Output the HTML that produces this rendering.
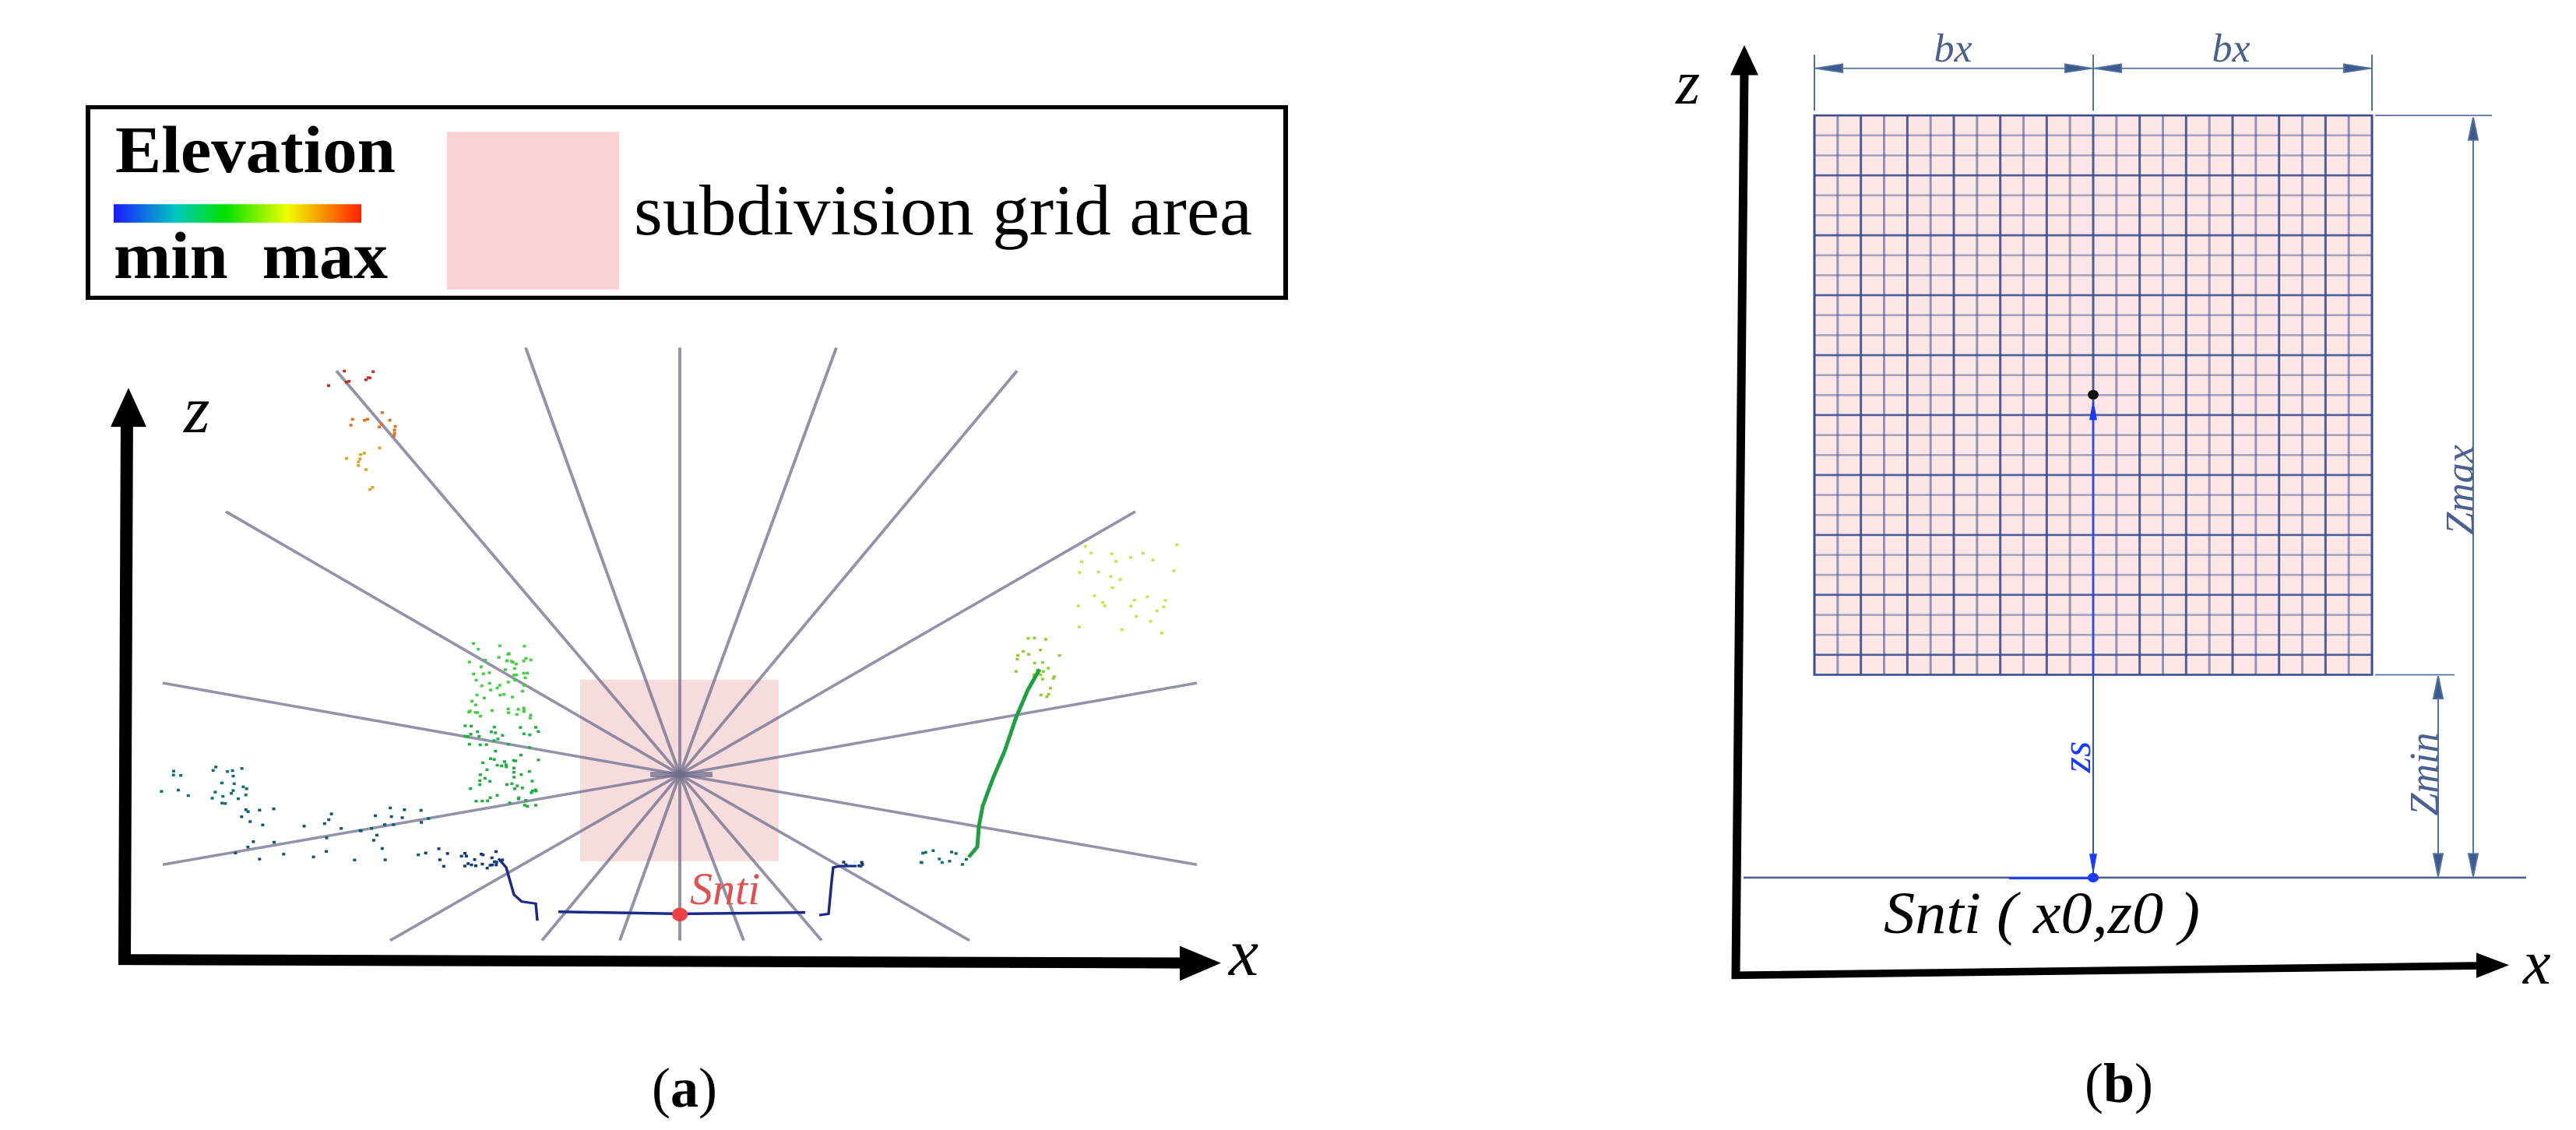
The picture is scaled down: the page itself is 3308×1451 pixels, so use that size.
<!DOCTYPE html>
<html><head><meta charset="utf-8"><style>
html,body{margin:0;padding:0;background:#fff;overflow:hidden;}
svg{display:block;}
</style></head><body>
<svg id="s" width="3308" height="1451" viewBox="0 0 3308 1451" xmlns="http://www.w3.org/2000/svg">
<defs>
<linearGradient id="g" x1="0" x2="1" y1="0" y2="0">
<stop offset="0" stop-color="#1a1aff"/><stop offset="0.25" stop-color="#00c8c0"/><stop offset="0.45" stop-color="#00e000"/><stop offset="0.7" stop-color="#f0ff00"/><stop offset="1" stop-color="#ff2000"/>
</linearGradient>
</defs>
<g transform="scale(1,0.877)">
<rect x="113" y="157" width="1538" height="279" fill="#fff" stroke="#000" stroke-width="6"/>
<rect x="146" y="299" width="318" height="27" fill="url(#g)"/>
<rect x="574" y="193" width="221" height="231" fill="#f9d3d3"/>

<rect x="745" y="995" width="255" height="266" fill="#f6dcdc"/>
<g id="rays" stroke="#6e6e8c" stroke-width="4" stroke-opacity="0.75"></g>
<g id="dots"></g>
<polyline points="640,1257 650,1270 655,1290 660,1310 670,1320 688,1323 690,1348" fill="none" stroke="#1a2a8a" stroke-width="3.5"/>
<polyline points="717,1335 873,1338 1034,1336" fill="none" stroke="#1a2a8a" stroke-width="4"/>
<polyline points="1052,1340 1064,1338 1068,1290 1070,1270 1080,1268 1100,1268" fill="none" stroke="#1a2a8a" stroke-width="3.5"/>
<polyline points="1244,1255 1255,1240 1257,1210 1262,1180 1275,1140 1290,1100 1305,1050 1320,1010 1335,980" fill="none" stroke="#1ea040" stroke-width="5"/>
<circle cx="873" cy="1339" r="10" fill="#f04040"/>
<polyline points="163,600 160,1405 1530,1410" fill="none" stroke="#000" stroke-width="16"/>
<polygon points="165,568 142,625 188,625" fill="#000"/>
<polygon points="1568,1410 1515,1385 1515,1436" fill="#000"/>

<rect x="2330" y="169" width="716" height="819" fill="#fde6e6"/>
<g id="grid" stroke="#3a4f8f" stroke-width="3"></g>
<rect x="2330" y="169" width="716" height="819" fill="none" stroke="#3a4f8f" stroke-width="3"/>
<g stroke="#5070a0" stroke-width="2" fill="#3a5a90">
<line x1="2330" y1="80" x2="2330" y2="162"/><line x1="2688" y1="80" x2="2688" y2="162"/><line x1="3046" y1="80" x2="3046" y2="162"/>
<line x1="2330" y1="100" x2="3046" y2="100"/>
<polygon points="2332,100 2366,94 2366,106"/><polygon points="2686,100 2652,94 2652,106"/>
<polygon points="2690,100 2724,94 2724,106"/><polygon points="3044,100 3010,94 3010,106"/>
<line x1="3050" y1="169" x2="3200" y2="169"/><line x1="3050" y1="988" x2="3152" y2="988"/>
<line x1="3176" y1="172" x2="3176" y2="1283"/><line x1="3131" y1="990" x2="3131" y2="1283"/>
<polygon points="3176,172 3170,205 3182,205"/><polygon points="3176,1283 3170,1250 3182,1250"/>
<polygon points="3131,990 3125,1023 3137,1023"/><polygon points="3131,1283 3125,1250 3137,1250"/>
</g>
<line x1="2239" y1="1285" x2="3244" y2="1285" stroke="#4a6090" stroke-width="3"/>
<line x1="2580" y1="1286" x2="2690" y2="1286" stroke="#1a3aff" stroke-width="3"/>
<line x1="2688" y1="590" x2="2688" y2="1280" stroke="#2a4aff" stroke-width="2"/>
<polygon points="2688,585 2683,615 2693,615" fill="#1a3aff"/>
<polygon points="2688,1280 2683,1250 2693,1250" fill="#1a3aff"/>
<circle cx="2688" cy="578" r="7" fill="#111"/>
<circle cx="2688" cy="1285" r="7" fill="#1a3aff"/>
<polyline points="2240,100 2229,1428 3180,1414" fill="none" stroke="#000" stroke-width="11"/>
<polygon points="2240,66 2222,110 2258,110" fill="#000"/>
<polygon points="3222,1413 3180,1395 3180,1432" fill="#000"/>
</g>

<text x="148" y="221" font-family="Liberation Serif" font-weight="bold" font-size="86" textLength="360" lengthAdjust="spacingAndGlyphs">Elevation</text>
<text x="146" y="357" font-family="Liberation Serif" font-weight="bold" font-size="86" textLength="352" lengthAdjust="spacingAndGlyphs">min&#160;&#160;max</text>
<text x="814" y="301" font-family="Liberation Serif" font-size="92" textLength="794" lengthAdjust="spacingAndGlyphs">subdivision grid area</text>
<text x="886" y="1161" font-family="Liberation Serif" font-style="italic" font-size="58" fill="#e05050">Snti</text>
<text x="236" y="555" font-family="Liberation Serif" font-style="italic" font-size="86">z</text>
<text x="1578" y="1252" font-family="Liberation Serif" font-style="italic" font-size="86">x</text>
<text x="879" y="1421" text-anchor="middle" font-family="Liberation Serif" font-size="72"><tspan>(</tspan><tspan font-weight="bold">a</tspan><tspan>)</tspan></text>
<text x="2508" y="79" text-anchor="middle" font-family="Liberation Serif" font-style="italic" font-size="52" fill="#4a6090">bx</text>
<text x="2865" y="79" text-anchor="middle" font-family="Liberation Serif" font-style="italic" font-size="52" fill="#4a6090">bx</text>
<text transform="translate(3176,629) rotate(-90)" text-anchor="middle" font-family="Liberation Serif" font-style="italic" font-size="52" fill="#4a6090">Zmax</text>
<text transform="translate(3130,994) rotate(-90)" text-anchor="middle" font-family="Liberation Serif" font-style="italic" font-size="52" fill="#4a6090">Zmin</text>
<text transform="translate(2684,972) rotate(-90)" text-anchor="middle" font-family="Liberation Serif" font-style="italic" font-size="52" fill="#1a3aff">zs</text>
<text x="2419" y="1198" font-family="Liberation Serif" font-style="italic" font-size="76" textLength="406" lengthAdjust="spacingAndGlyphs">Snti ( x0,z0 )</text>
<text x="2152" y="133" font-family="Liberation Serif" font-style="italic" font-size="80">z</text>
<text x="3240" y="1263" font-family="Liberation Serif" font-style="italic" font-size="80">x</text>
<text x="2721" y="1415" text-anchor="middle" font-family="Liberation Serif" font-size="72"><tspan>(</tspan><tspan font-weight="bold">b</tspan><tspan>)</tspan></text>
</svg>
<script>
var NS="http://www.w3.org/2000/svg";
function el(p,t,a){var e=document.createElementNS(NS,t);for(var k in a)e.setAttribute(k,a[k]);p.appendChild(e);return e;}
var cx=873,cy=1134;
var ends=[[873,509],[675,509],[1074,509],[432,543],[1306,543],[290,749],[1458,749],[209,1000],[1537,1000],[209,1266],[1537,1266],[501,1377],[696,1377],[796,1377],[873,1377],[955,1377],[1055,1377],[1245,1377]];
var R=document.getElementById("rays");
ends.forEach(function(e){el(R,"line",{x1:cx,y1:cy,x2:e[0],y2:e[1]});});
el(R,"line",{x1:835,y1:1134,x2:915,y2:1134,"stroke-width":8});
var G=document.getElementById("grid");
for(var i=1;i<24;i++){var x=2330+i*716/24;el(G,"line",{x1:x,y1:169,x2:x,y2:988,"stroke-opacity":(i%2?0.55:0.9)});}
for(var j=1;j<28;j++){var y=169+j*819/28;el(G,"line",{x1:2330,y1:y,x2:3046,y2:y,"stroke-opacity":(j%3==0?0.9:0.45)});}
var seed=7;function rnd(){seed=(seed*16807)%2147483647;return seed/2147483647;}
var D=document.getElementById("dots");
function cluster(x,y,w,h,n,col){for(var i=0;i<n;i++)el(D,"rect",{x:x+rnd()*w,y:y+rnd()*h,width:4,height:4,fill:col});}
cluster(420,535,70,30,8,"#c03020");cluster(440,600,70,40,12,"#e07020");cluster(440,650,50,70,10,"#e0a020");
cluster(600,940,80,110,60,"#40d040");cluster(595,1060,95,120,70,"#20b040");
cluster(200,1120,120,60,25,"#107070");cluster(300,1180,250,80,40,"#105a70");cluster(540,1240,110,30,25,"#103a80");
cluster(1370,790,140,150,30,"#d0e040");cluster(1300,930,60,90,25,"#90d030");cluster(1180,1240,60,25,12,"#107070");
cluster(1076,1260,30,8,6,"#103a80");
</script>
</body></html>
